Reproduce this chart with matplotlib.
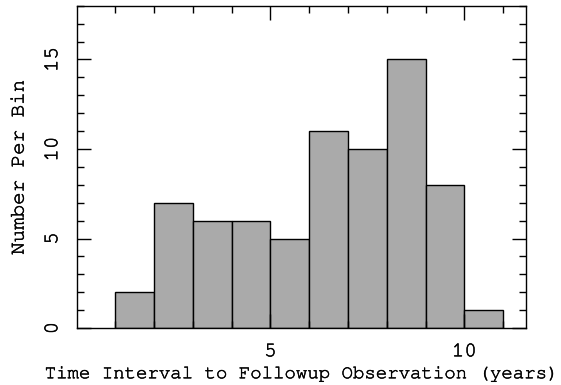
import matplotlib.pyplot as plt
import matplotlib.patheffects as pe
import numpy as np

bin_edges = np.arange(1, 12)
counts = [2, 7, 6, 6, 5, 11, 10, 15, 8, 1]

xlabel = "Time Interval to Followup Observation (years)"
ylabel = "Number Per Bin"

plt.rcParams["font.family"] = ["FreeMono", "Nimbus Mono PS", "Liberation Mono",
                               "DejaVu Sans Mono"]

fig = plt.figure(figsize=(5.61, 3.85), dpi=100)
ax = fig.add_axes([0.1364, 0.148, 0.937 - 0.1364, 0.985 - 0.148])

widths = np.diff(bin_edges)
ax.bar(bin_edges[:-1], counts, width=widths, align="edge",
       color="#aaaaaa", edgecolor="black", linewidth=1.0)

ax.set_xlim(0, 11.58)
ax.set_ylim(0, 18)

ax.set_xticks([5, 10])
ax.set_xticks(np.arange(1, 12), minor=True)
ax.set_yticks([0, 5, 10, 15])
ax.set_yticks(np.arange(0, 19), minor=True)

ax.tick_params(which="both", direction="in", top=True, right=True,
               labelsize=15, width=1.0)
ax.tick_params(which="major", length=10, pad=11)
ax.tick_params(which="minor", length=5)

for s in ax.spines.values():
    s.set_linewidth(1.0)

ax.set_xlabel(xlabel, fontsize=13.7, labelpad=5)
ax.set_ylabel(ylabel, fontsize=15, labelpad=12)

# thicken the thin mono glyphs a bit
heavy = [pe.withStroke(linewidth=0.35, foreground="black")]
for lab in ax.get_yticklabels():
    lab.set_rotation(90)
    lab.set_va("center")
for t in ax.get_xticklabels() + ax.get_yticklabels() + [ax.xaxis.label, ax.yaxis.label]:
    t.set_path_effects(heavy)

fig.savefig("out.png", dpi=100)
